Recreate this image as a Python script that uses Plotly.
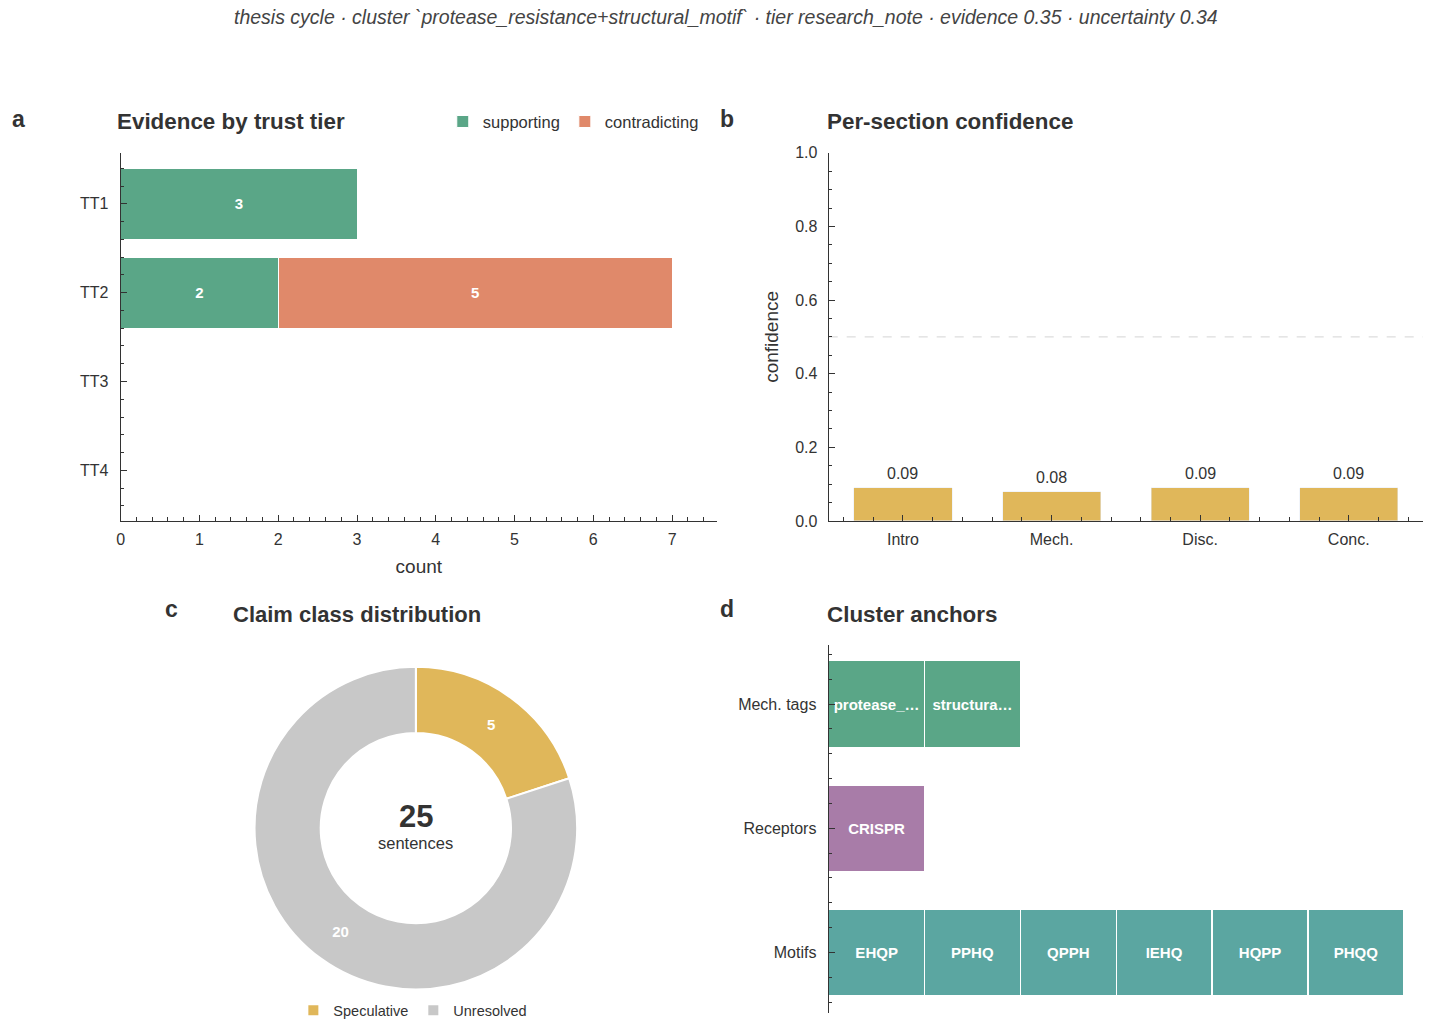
import plotly.graph_objects as go

# ---------------- data ----------------
tiers = ["TT1", "TT2", "TT3", "TT4"]
supporting = [3, 2, 0, 0]
contradicting = [0, 5, 0, 0]

sections = ["Intro", "Mech.", "Disc.", "Conc."]
confidence = [0.09, 0.08, 0.09, 0.09]

claim_classes = ["Speculative", "Unresolved"]
claim_counts = [5, 20]

anchor_rows = ["Mech. tags", "Receptors", "Motifs"]
mech_tags = ["protease_resistance", "structural_motif"]
receptors = ["CRISPR"]
motifs = ["EHQP", "PPHQ", "QPPH", "IEHQ", "HQPP", "PHQQ"]

suptitle = ("thesis cycle · cluster `protease_resistance+structural_motif` · "
            "tier research_note · evidence 0.35 · uncertainty 0.34")

# ---------------- style ----------------
FONT = "Liberation Sans, Arial, sans-serif"
DARK = "#333333"
GREEN = "#5AA687"
ORANGE = "#E0896A"
GOLD = "#E0B75A"
GRAY = "#C8C8C8"
PURPLE = "#A87CA8"
TEAL = "#5BA6A1"

W, H = 1434, 1034


def px(x):
    return x / W


def py(y):
    # layout position (pixels from top) -> paper fraction
    y = (y - 8.3) / 0.983
    return 1 - y / H


fig = go.Figure()

# ---------------- panel a ----------------
ypos = list(range(len(tiers)))
for vals, name, col in [(supporting, "supporting", GREEN),
                        (contradicting, "contradicting", ORANGE)]:
    fig.add_trace(go.Bar(
        y=ypos, x=vals, orientation="h", name=name,
        marker=dict(color=col, line=dict(color="white", width=1)),
        width=0.8, text=[str(v) if v else "" for v in vals],
        textposition="inside", insidetextanchor="middle",
        textfont=dict(color="white", size=15, family=FONT, weight="bold"),
        xaxis="x", yaxis="y", legend="legend", hoverinfo="skip"))

# ---------------- panel b ----------------
xpos = list(range(len(sections)))
fig.add_trace(go.Bar(
    x=xpos, y=confidence, marker=dict(color=GOLD), width=0.66,
    xaxis="x2", yaxis="y2", showlegend=False, hoverinfo="skip"))

# ---------------- panel c ----------------
cy = (828 - 8.3) / 0.983
fig.add_trace(go.Pie(
    labels=claim_classes, values=claim_counts, hole=0.59, sort=False,
    direction="clockwise", rotation=0,
    marker=dict(colors=[GOLD, GRAY], line=dict(color="white", width=2)),
    textinfo="value", textposition="inside", insidetextorientation="horizontal",
    textfont=dict(color="white", size=15, family=FONT, weight="bold"),
    domain=dict(x=[px(413 - 164), px(413 + 164)],
                y=[1 - (cy + 164) / H, 1 - (cy - 164) / H]),
    legend="legend2", hoverinfo="skip"))

# ---------------- panel d ----------------
def short(s, n=9):
    return s if len(s) <= n + 1 else s[:n] + "…"


rows = [(mech_tags, GREEN), (receptors, PURPLE), (motifs, TEAL)]
for ri, (items, col) in enumerate(rows):
    fig.add_trace(go.Bar(
        y=[ri] * len(items), x=[1] * len(items), base=list(range(len(items))),
        orientation="h", width=0.7,
        marker=dict(color=col, line=dict(color="white", width=1.5)),
        text=[short(s) for s in items], textposition="inside",
        insidetextanchor="middle", constraintext="none",
        textfont=dict(color="white", size=15, family=FONT, weight="bold"),
        xaxis="x3", yaxis="y3", showlegend=False, hoverinfo="skip"))

# ---------------- axes ----------------
common = dict(showline=True, linecolor=DARK, linewidth=1.2, ticks="inside",
              ticklen=6, tickwidth=1.2, tickcolor=DARK, showgrid=False,
              zeroline=False, tickfont=dict(size=16, color=DARK, family=FONT))
minor = dict(ticks="inside", ticklen=3.5, tickwidth=1, tickcolor=DARK)

fig.update_layout(
    width=W, height=H, margin=dict(l=0, r=0, t=0, b=0),
    paper_bgcolor="white", plot_bgcolor="white",
    font=dict(family=FONT, color=DARK),
    barmode="stack", bargap=0.2,
    xaxis=dict(domain=[px(117), px(715)], anchor="y", range=[0, 7.57],
               tickmode="linear", tick0=0, dtick=1, ticklabelstandoff=4,
               minor=dict(dtick=0.2, **minor),
               title=dict(text="count", font=dict(size=19, color=DARK), standoff=12),
               **common),
    yaxis=dict(domain=[py(521), py(153)], anchor="x", range=[3.57, -0.575],
               tickmode="array", tickvals=ypos, ticktext=tiers, ticklabelstandoff=8,
               minor=dict(dtick=0.2, tick0=0, **minor),
               **common),
    xaxis2=dict(domain=[px(827), px(1423)], anchor="y2", range=[-0.5, 3.5],
                tickmode="array", tickvals=xpos, ticktext=sections, ticklabelstandoff=4,
                minor=dict(dtick=0.2, tick0=0, **minor),
                **common),
    yaxis2=dict(domain=[py(521), py(153)], anchor="x2", range=[0, 1.0],
                tickmode="linear", tick0=0, dtick=0.2, tickformat=".1f",
                ticklabelstandoff=7,
                minor=dict(dtick=0.05, **minor),
                title=dict(text="confidence", font=dict(size=19, color=DARK), standoff=11),
                **common),
    xaxis3=dict(domain=[px(827), px(1423)], anchor="y3", range=[0, 6.2],
                visible=False),
    yaxis3=dict(domain=[py(1013), py(645)], anchor="x3", range=[2.49, -0.476],
                tickmode="array", tickvals=list(range(len(anchor_rows))),
                ticktext=anchor_rows, ticklabelstandoff=8,
                minor=dict(dtick=0.2, tick0=0, **minor),
                **common),
    legend=dict(orientation="h", x=px(440), y=py(122), xanchor="left", yanchor="middle",
                font=dict(size=16.5, color=DARK, family=FONT), bgcolor="rgba(0,0,0,0)",
                itemwidth=30, traceorder="normal"),
    legend2=dict(orientation="h", x=px(410), y=py(1010), xanchor="center", yanchor="middle",
                 font=dict(size=14.5, color=DARK, family=FONT), bgcolor="rgba(0,0,0,0)",
                 itemwidth=30, traceorder="normal"),
)

# reference line at 0.5 in panel b
fig.add_shape(type="line", xref="x2 domain", yref="y2", x0=0, x1=1, y0=0.5, y1=0.5,
              line=dict(color="#DDDDDD", width=1.2, dash="dash"), layer="below")

# ---------------- annotations ----------------
ann = []

# value labels above confidence bars
for xv, v in zip(xpos, confidence):
    ann.append(dict(x=xv, y=v, xref="x2", yref="y2", text=f"{v:.2f}",
                    showarrow=False, xanchor="center", yanchor="bottom", yshift=4,
                    font=dict(size=16, color=DARK, family=FONT)))


def text(x, y, s, size, bold=False, italic=False, xanchor="left", color=DARK):
    ann.append(dict(x=px(x), y=py(y), xref="paper", yref="paper", text=s,
                    showarrow=False, xanchor=xanchor, yanchor="middle",
                    font=dict(size=size, color=color, family=FONT,
                              weight="bold" if bold else "normal",
                              style="italic" if italic else "normal")))


text(724, 17, suptitle, 19.5, italic=True, xanchor="center", color="#444444")
text(6, 119, "a", 23, bold=True)
text(716, 119, "b", 23, bold=True)
text(159, 609, "c", 23, bold=True)
text(716, 609, "d", 23, bold=True)
text(111, 122, "Evidence by trust tier", 22.4, bold=True)
text(823, 122, "Per-section confidence", 22.4, bold=True)
text(354, 614, "Claim class distribution", 22, bold=True, xanchor="center")
text(823, 614, "Cluster anchors", 22.4, bold=True)
text(413, 816, str(sum(claim_counts)), 31, bold=True, xanchor="center")
text(413, 843, "sentences", 16.5, xanchor="center")

fig.update_layout(annotations=ann)

fig.write_html("out.html")
